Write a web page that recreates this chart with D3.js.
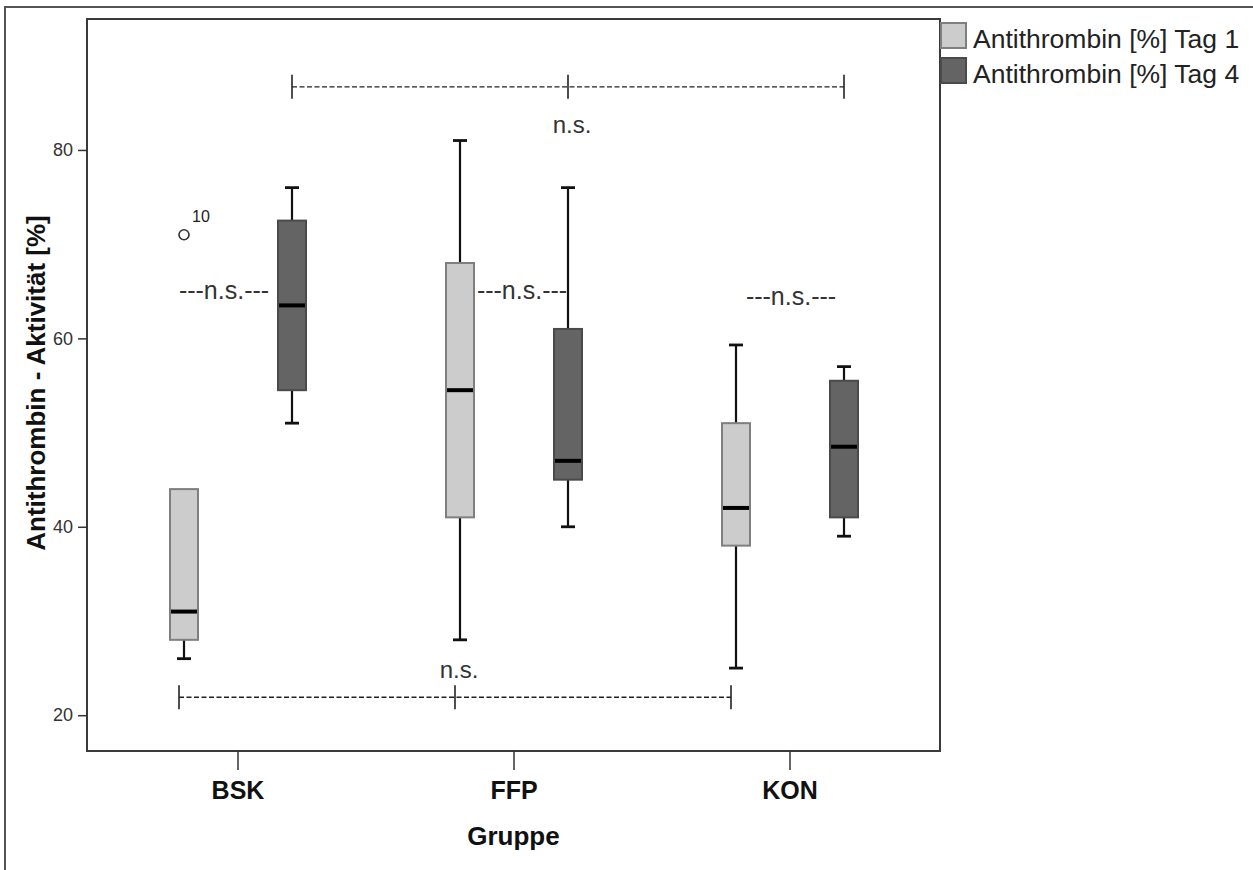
<!DOCTYPE html>
<html>
<head>
<meta charset="utf-8">
<script src="https://cdn.jsdelivr.net/npm/d3@7"></script>
<style>
  html, body { margin: 0; padding: 0; background: #fff; }
  svg { display: block; font-family: "Liberation Sans", Arial, sans-serif; }
</style>
</head>
<body>
<svg id="chart" width="1253" height="870"></svg>
<script>
// Groups and series
const groups = ["BSK", "FFP", "KON"];
const series = ["Antithrombin [%] Tag 1", "Antithrombin [%] Tag 4"];

// Box statistics per group, Tag 1
const tag1Min    = [26, 28, 25];
const tag1Q1     = [28, 41, 38];
const tag1Median = [31, 54.5, 42];
const tag1Q3     = [44, 68, 51];
const tag1Max    = [44, 81, 59.3];

// Box statistics per group, Tag 4
const tag4Min    = [51, 40, 39];
const tag4Q1     = [54.5, 45, 41];
const tag4Median = [63.5, 47, 48.5];
const tag4Q3     = [72.5, 61, 55.5];
const tag4Max    = [76, 76, 57];

// Outliers
const outlierGroup  = ["BSK"];
const outlierSeries = [0];
const outlierValue  = [71];
const outlierLabel  = ["10"];

// Axis ticks
const yTicks = [20, 40, 60, 80];

// Significance notes within each group (Tag 1 vs Tag 4)
const withinText  = ["---n.s.---", "---n.s.---", "---n.s.---"];
const withinValue = [65, 65, 64.4];

// Significance notes between groups
const betweenTag4Value = 86.7;
const betweenTag1Value = 21.9;
const betweenText = "n.s.";

// Styling
const fills   = ["#cccccc", "#646464"];
const strokes = ["#7f7f7f", "#4a4a4a"];
const withinShift = [-14, 8, 1];

const svg = d3.select("#chart");

const plot = { left: 87, top: 19, right: 940, bottom: 751 };

// Outer frame
svg.append("path")
  .attr("d", `M5,870 L5,7 L1253,7`)
  .attr("fill", "none").attr("stroke", "#555").attr("stroke-width", 2);

const x = d3.scaleBand().domain(groups).range([100, 928]).padding(0);
const xInner = d3.scalePoint().domain(series).range([84, 192]);
const y = d3.scaleLinear().domain([16.2, 93.9]).range([plot.bottom, plot.top]);
const boxW = 28, capW = 14;

const cx = (g, s) => x(g) + xInner(series[s]);

const stats = [
  groups.map((g, i) => ({ g, s: 0, min: tag1Min[i], q1: tag1Q1[i], med: tag1Median[i], q3: tag1Q3[i], max: tag1Max[i] })),
  groups.map((g, i) => ({ g, s: 1, min: tag4Min[i], q1: tag4Q1[i], med: tag4Median[i], q3: tag4Q3[i], max: tag4Max[i] }))
].flat();

// Plot frame
svg.append("rect")
  .attr("x", plot.left).attr("y", plot.top)
  .attr("width", plot.right - plot.left).attr("height", plot.bottom - plot.top)
  .attr("fill", "none").attr("stroke", "#3a3a3a").attr("stroke-width", 2);

// Y axis
const yAxis = svg.append("g")
  .attr("transform", `translate(${plot.left},0)`)
  .call(d3.axisLeft(y).tickValues(yTicks).tickSize(9).tickPadding(5));
yAxis.select(".domain").remove();
yAxis.selectAll("line").attr("stroke", "#333").attr("stroke-width", 1.5);
yAxis.selectAll("text").attr("font-size", 18).attr("fill", "#333")
  .attr("font-family", "'Liberation Sans', Arial, sans-serif");

// X axis
const xAxis = svg.append("g")
  .attr("transform", `translate(0,${plot.bottom})`)
  .call(d3.axisBottom(x).tickSize(19).tickPadding(11));
xAxis.select(".domain").remove();
xAxis.selectAll("line").attr("stroke", "#333").attr("stroke-width", 1.5);
xAxis.selectAll("text").attr("font-size", 25).attr("font-weight", "bold").attr("fill", "#111")
  .attr("font-family", "'Liberation Sans', Arial, sans-serif");

// Axis titles
svg.append("text")
  .attr("x", (plot.left + plot.right) / 2).attr("y", 845)
  .attr("text-anchor", "middle").attr("font-size", 26).attr("font-weight", "bold").attr("fill", "#111")
  .text("Gruppe");
svg.append("text")
  .attr("transform", `translate(45,383) rotate(-90)`)
  .attr("text-anchor", "middle").attr("font-size", 26).attr("font-weight", "bold").attr("fill", "#111")
  .text("Antithrombin - Aktivität [%]");

// Boxplots
const boxes = svg.append("g").selectAll("g").data(stats).join("g");

// whiskers (only where they extend beyond the box)
boxes.each(function (d) {
  const g = d3.select(this);
  const c = cx(d.g, d.s);
  [[d.q3, d.max], [d.q1, d.min]].forEach(([from, to]) => {
    if (from === to) return;
    g.append("line").attr("x1", c).attr("x2", c).attr("y1", y(from)).attr("y2", y(to))
      .attr("stroke", "#111").attr("stroke-width", 2.2);
    g.append("line").attr("x1", c - capW / 2).attr("x2", c + capW / 2).attr("y1", y(to)).attr("y2", y(to))
      .attr("stroke", "#111").attr("stroke-width", 2.8);
  });
});

boxes.append("rect")
  .attr("x", d => cx(d.g, d.s) - boxW / 2)
  .attr("y", d => y(d.q3))
  .attr("width", boxW)
  .attr("height", d => y(d.q1) - y(d.q3))
  .attr("fill", d => fills[d.s])
  .attr("stroke", d => strokes[d.s])
  .attr("stroke-width", 2);

boxes.append("line")
  .attr("x1", d => cx(d.g, d.s) - boxW / 2 + 1)
  .attr("x2", d => cx(d.g, d.s) + boxW / 2 - 1)
  .attr("y1", d => y(d.med)).attr("y2", d => y(d.med))
  .attr("stroke", "#000").attr("stroke-width", 4);

// Outliers
outlierValue.forEach((v, i) => {
  const c = cx(outlierGroup[i], outlierSeries[i]);
  svg.append("circle").attr("cx", c).attr("cy", y(v)).attr("r", 5)
    .attr("fill", "#fff").attr("stroke", "#333").attr("stroke-width", 1.6);
  svg.append("text").attr("x", c + 8).attr("y", y(v) - 13)
    .attr("font-size", 16).attr("fill", "#222").text(outlierLabel[i]);
});

// Within-group notes
groups.forEach((g, i) => {
  const c = x(g) + x.bandwidth() / 2;
  svg.append("text").attr("x", c + withinShift[i]).attr("y", y(withinValue[i]) + 8)
    .attr("text-anchor", "middle").attr("font-size", 25).attr("fill", "#333")
    .text(withinText[i]);
});

// Between-group brackets
function bracket(sIdx, value, shift, labelDy) {
  const xs = groups.map(g => cx(g, sIdx) + shift);
  const yy = y(value);
  const gB = svg.append("g");
  gB.append("line").attr("x1", xs[0]).attr("x2", xs[xs.length - 1]).attr("y1", yy).attr("y2", yy)
    .attr("stroke", "#222").attr("stroke-width", 1.4).attr("stroke-dasharray", "5,2.5");
  xs.forEach(xx => {
    gB.append("line").attr("x1", xx).attr("x2", xx).attr("y1", yy - 12).attr("y2", yy + 12)
      .attr("stroke", "#222").attr("stroke-width", 1.6);
  });
  gB.append("text").attr("x", xs[1] + 4).attr("y", yy + labelDy)
    .attr("text-anchor", "middle").attr("font-size", 24).attr("fill", "#333").text(betweenText);
}
bracket(1, betweenTag4Value, 0, 46);
bracket(0, betweenTag1Value, -5, -19);

// Legend
const legend = svg.append("g").attr("transform", "translate(941,22)");
series.forEach((s, i) => {
  const row = legend.append("g").attr("transform", `translate(0,${i * 35})`);
  row.append("rect").attr("x", 0).attr("y", 1).attr("width", 25).attr("height", 25)
    .attr("fill", fills[i]).attr("stroke", strokes[i]).attr("stroke-width", 2);
  row.append("text").attr("x", 32).attr("y", 26).attr("font-size", 26.5).attr("fill", "#222").text(s);
});
</script>
</body>
</html>
